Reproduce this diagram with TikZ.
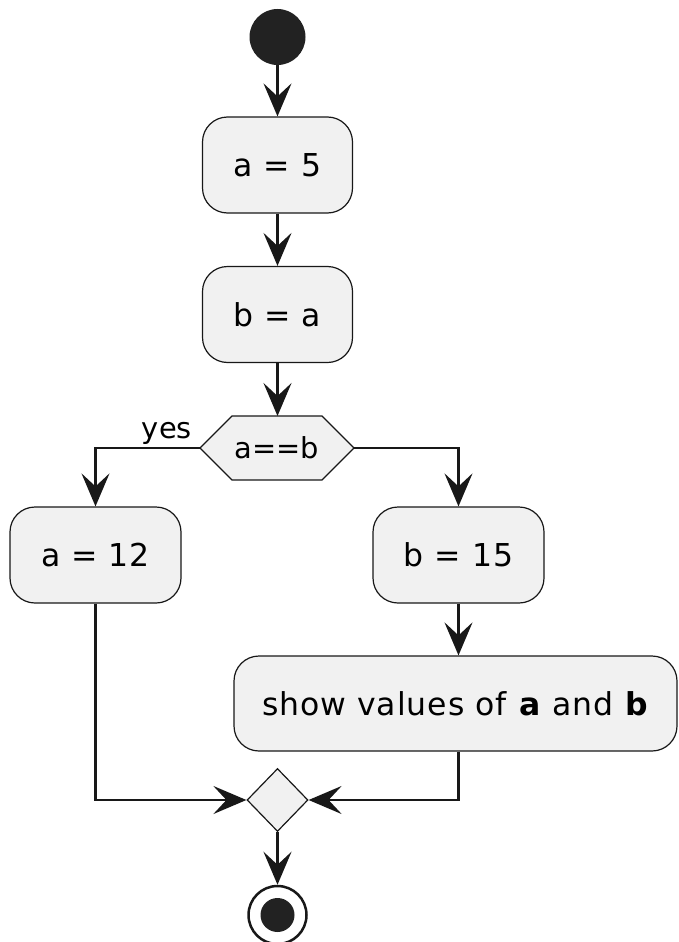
\documentclass[tikz,border=0pt]{standalone}
\usepackage{fontspec}
\setmainfont{DejaVu Sans}
\newfontfamily\actionfont[LetterSpace=3]{DejaVu Sans}
\usetikzlibrary{arrows.meta,shapes.geometric}
\definecolor{boxfill}{HTML}{F1F1F1}
\definecolor{ink}{HTML}{181818}
\definecolor{dot}{HTML}{222222}
\begin{document}
\begin{tikzpicture}[x=1pt,y=-1pt,
  action/.style={draw=ink, line width=1.2pt, fill=boxfill, rounded corners=25pt,
    minimum height=96pt, inner sep=0pt, font=\actionfont\fontsize{31.5}{38}\selectfont, text=black},
  guard/.style={font=\fontsize{28.9}{34}\selectfont, text=black, inner sep=0pt},
  outline/.style={draw=ink, line width=1.2pt, fill=boxfill},
  flow/.style={draw=ink, line width=2.3pt, -{Stealth[length=33pt,width=28pt,inset=13pt]}}
]
\useasboundingbox (0,0) rectangle (678,942);

% start
\node[circle, fill=dot, minimum size=56pt, inner sep=0pt] (start) at (277.5,37) {};

% actions
\node[action, minimum width=150pt] (a5) at (277.5,165) {a = 5};
\node[action, minimum width=150pt] (ba) at (277.5,314.5) {b = a};

% decision hexagon
\node[rectangle, minimum width=154pt, minimum height=64pt, inner sep=0pt, outer sep=0pt] (hex) at (277,448) {};
\filldraw[outline] (hex.west) -- ([xshift=32pt]hex.north west) -- ([xshift=-32pt]hex.north east)
  -- (hex.east) -- ([xshift=-32pt]hex.south east) -- ([xshift=32pt]hex.south west) -- cycle;
\node[guard] (hexlabel) at (hex) {a==b};

\node[action, minimum width=171pt] (a12) at (95.5,555) {a = 12};
\node[action, minimum width=171pt] (b15) at (458.5,555) {b = 15};
\node[action, minimum width=443pt, minimum height=95pt] (show) at (455.5,703.5)
  {show values of \textbf{a} and \textbf{b}};

% merge and stop
\node[diamond, outline, minimum width=61pt, minimum height=63pt, inner sep=0pt] (merge) at (277.5,800) {};
\node[circle, draw=ink, line width=2.5pt, fill=white, minimum size=58pt, inner sep=0pt] (stop) at (277.5,915) {};
\node[circle, fill=dot, minimum size=34pt, inner sep=0pt] (stopdot) at (stop) {};

% connectors
\draw[flow] (start) -- (a5);
\draw[flow] (a5) -- (ba);
\draw[flow] (ba.south) -- (ba.south |- hex.north);
\draw[flow] (hex.west) node[guard, anchor=base east, xshift=-7pt, yshift=10pt] (yes) {yes} -| (a12.north);
\draw[flow] (hex.east) -| (b15.north);
\draw[flow] (b15.south) -- (b15.south |- show.north);
\draw[flow] (a12.south) |- (merge.west);
\draw[flow] (b15.south |- show.south) |- (merge.east);
\draw[flow] (merge.south) -- (stop.north);
\end{tikzpicture}
\end{document}
